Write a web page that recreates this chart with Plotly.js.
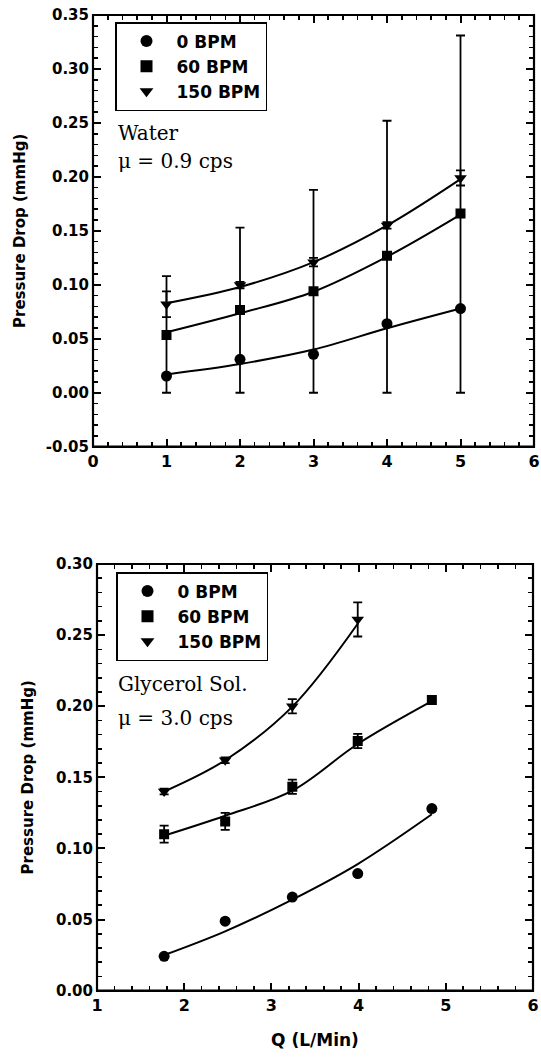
<!DOCTYPE html>
<html>
<head>
<meta charset="utf-8">
<script src="https://cdn.plot.ly/plotly-3.0.1.min.js"></script>
<style>html,body{margin:0;padding:0;background:#fff;}#chart{width:541px;height:1059px;}</style>
</head>
<body>
<div id="chart"></div>
<script>
// ---- Top panel: Water ----
const waterQ = [1, 2, 3, 4, 5];
const water0 = [0.0155, 0.031, 0.0356, 0.064, 0.078];
const water60 = [0.0535, 0.0766, 0.094, 0.127, 0.166];
const water150 = [0.082, 0.0998, 0.121, 0.155, 0.199];
const water60ErrUp = [0.0545, 0.0764, 0.094, 0.125, 0.165];
const water60ErrDown = [0.0535, 0.0766, 0.094, 0.127, 0.166];
const water150Err = [0.012, 0.003, 0.004, 0.003, 0.007];
const waterFit0 = [0.017, 0.0266, 0.040, 0.0597, 0.078];
const waterFit60 = [0.056, 0.0736, 0.0936, 0.126, 0.165];
const waterFit150 = [0.083, 0.098, 0.121, 0.155, 0.198];

// ---- Bottom panel: Glycerol solution ----
const glyQ = [1.77, 2.47, 3.24, 3.99, 4.84];
const gly150Q = [1.77, 2.47, 3.24, 3.99];
const gly0 = [0.0241, 0.0488, 0.0658, 0.0823, 0.128];
const gly60 = [0.110, 0.119, 0.1434, 0.1755, 0.2044];
const gly150 = [0.140, 0.162, 0.200, 0.261];
const gly60Err = [0.006, 0.006, 0.005, 0.005, 0.0];
const gly150Err = [0.002, 0.002, 0.005, 0.012];
const glyFit0 = [0.025, 0.0417, 0.064, 0.089, 0.124];
const glyFit60 = [0.109, 0.123, 0.1406, 0.1734, 0.2035];
const glyFit150 = [0.140, 0.162, 0.1997, 0.258];

const seriesNames = ['0 BPM', '60 BPM', '150 BPM'];
const topYTicks = [-0.05, 0.00, 0.05, 0.10, 0.15, 0.20, 0.25, 0.30, 0.35];
const topYTickText = ['-0.05', '0.00', '0.05', '0.10', '0.15', '0.20', '0.25', '0.30', '0.35'];
const panelNotes = [['Water', 'μ = 0.9 cps'], ['Glycerol Sol.', 'μ = 3.0 cps']];

const sans = 'DejaVu Sans, Arial, sans-serif';
const serif = 'DejaVu Serif, Times New Roman, serif';
const blk = '#000';

function fit(x, y, xa, ya) {
  return {x: x, y: y, xaxis: xa, yaxis: ya, mode: 'lines', type: 'scatter',
    line: {color: blk, width: 2, shape: 'spline', smoothing: 1}, showlegend: false, hoverinfo: 'skip'};
}
function pts(x, y, name, sym, size, xa, ya, leg, err) {
  const t = {x: x, y: y, xaxis: xa, yaxis: ya, mode: 'markers', type: 'scatter', name: name,
    legend: leg, legendgroup: leg + name,
    marker: {symbol: sym, size: size, color: blk, line: {width: 0}}};
  if (err) t.error_y = Object.assign({type: 'data', color: blk, thickness: 1.8, width: 4.5, visible: true}, err);
  return t;
}

const data = [
  fit(waterQ, waterFit0, 'x', 'y'),
  fit(waterQ, waterFit60, 'x', 'y'),
  fit(waterQ, waterFit150, 'x', 'y'),
  pts(waterQ, water0, seriesNames[0], 'circle', 11, 'x', 'y', 'legend'),
  pts(waterQ, water60, seriesNames[1], 'square', 10, 'x', 'y', 'legend',
      {symmetric: false, array: water60ErrUp, arrayminus: water60ErrDown}),
  pts(waterQ, water150, seriesNames[2], 'triangle-down', 11, 'x', 'y', 'legend',
      {array: water150Err}),
  fit(glyQ, glyFit0, 'x2', 'y2'),
  fit(glyQ, glyFit60, 'x2', 'y2'),
  fit(gly150Q, glyFit150, 'x2', 'y2'),
  pts(glyQ, gly0, seriesNames[0], 'circle', 11, 'x2', 'y2', 'legend2'),
  pts(glyQ, gly60, seriesNames[1], 'square', 10, 'x2', 'y2', 'legend2', {array: gly60Err}),
  pts(gly150Q, gly150, seriesNames[2], 'triangle-down', 11, 'x2', 'y2', 'legend2', {array: gly150Err})
];

const minorX = {ticks: 'inside', ticklen: 5, tickwidth: 1.6, tickcolor: blk, dtick: 0.2, tick0: 0};
const minorY = {ticks: 'inside', ticklen: 5, tickwidth: 1.6, tickcolor: blk, dtick: 0.01, tick0: 0};

function ax(extra) {
  return Object.assign({
    showline: true, linecolor: blk, mirror: 'ticks',
    ticks: 'inside', ticklen: 8, tickwidth: 2, tickcolor: blk,
    showgrid: false, zeroline: false,
    tickfont: {family: sans, size: 15, color: blk, weight: 'bold'}
  }, extra);
}
function frame(xa, ya) {
  return {type: 'rect', xref: xa + ' domain', yref: ya + ' domain', x0: 0, x1: 1, y0: 0, y1: 1,
    line: {color: blk, width: 2.2}, fillcolor: 'rgba(0,0,0,0)', layer: 'above'};
}

const legendBase = {
  xanchor: 'left', yanchor: 'top', bgcolor: '#fff', bordercolor: blk, borderwidth: 1.5,
  font: {family: sans, size: 17, color: blk, weight: 'bold'}, traceorder: 'normal',
  itemsizing: 'constant', itemwidth: 50
};

const layout = {
  width: 541, height: 1059,
  margin: {l: 0, r: 0, t: 0, b: 0},
  paper_bgcolor: '#fff', plot_bgcolor: '#fff',
  showlegend: true,
  xaxis: ax({domain: [93/541, 534/541], range: [0, 6], dtick: 1, tick0: 0, anchor: 'y',
    tickfont: {family: sans, size: 16, color: blk, weight: 'bold'}, minor: minorX}),
  yaxis: ax({domain: [(1059-446.7)/1059, (1059-15)/1059], range: [-0.05, 0.35], anchor: 'x',
    tickmode: 'array', tickvals: topYTicks, ticktext: topYTickText, minor: minorY,
    title: {text: 'Pressure Drop (mmHg)', standoff: 16, font: {family: sans, size: 15, color: blk, weight: 'bold'}}}),
  xaxis2: ax({domain: [97/541, 533/541], range: [1, 6], dtick: 1, tick0: 0, anchor: 'y2',
    tickfont: {family: sans, size: 16, color: blk, weight: 'bold'}, minor: minorX,
    title: {text: 'Q (L/Min)', standoff: 20, font: {family: sans, size: 17, color: blk, weight: 'bold'}}}),
  yaxis2: ax({domain: [(1059-990.6)/1059, (1059-564)/1059], range: [0, 0.30], anchor: 'x2',
    dtick: 0.05, tick0: 0, tickformat: '.2f', minor: minorY,
    title: {text: 'Pressure Drop (mmHg)', standoff: 18, font: {family: sans, size: 15, color: blk, weight: 'bold'}}}),
  legend: Object.assign({x: 115/541, y: (1059-22)/1059}, legendBase),
  legend2: Object.assign({x: 116/541, y: (1059-572)/1059}, legendBase),
  shapes: [frame('x', 'y'), frame('x2', 'y2')],
  annotations: [
    {xref: 'paper', yref: 'paper', x: 116/541, y: (1059-133)/1059, xanchor: 'left', yanchor: 'middle',
     text: panelNotes[0][0], showarrow: false, font: {family: serif, size: 20, color: blk}},
    {xref: 'paper', yref: 'paper', x: 116/541, y: (1059-161)/1059, xanchor: 'left', yanchor: 'middle',
     text: panelNotes[0][1], showarrow: false, font: {family: serif, size: 20, color: blk}},
    {xref: 'paper', yref: 'paper', x: 116/541, y: (1059-684)/1059, xanchor: 'left', yanchor: 'middle',
     text: panelNotes[1][0], showarrow: false, font: {family: serif, size: 20, color: blk}},
    {xref: 'paper', yref: 'paper', x: 116/541, y: (1059-718)/1059, xanchor: 'left', yanchor: 'middle',
     text: panelNotes[1][1], showarrow: false, font: {family: serif, size: 20, color: blk}}
  ]
};

Plotly.newPlot('chart', data, layout, {staticPlot: true, displayModeBar: false});
</script>
</body>
</html>
